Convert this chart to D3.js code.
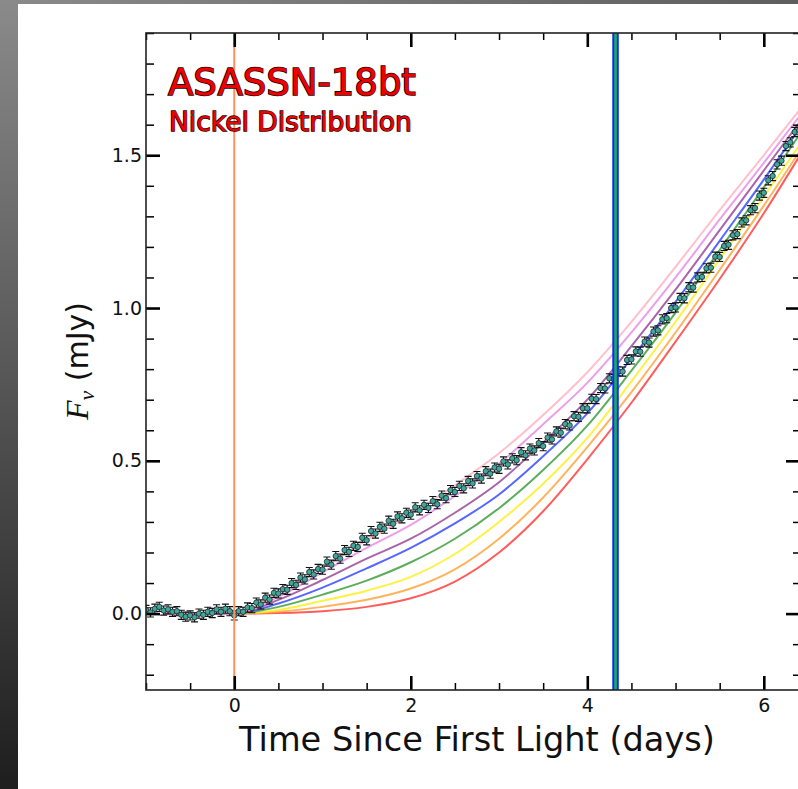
<!DOCTYPE html>
<html>
<head>
<meta charset="utf-8">
<script src="https://cdn.jsdelivr.net/npm/d3@7"></script>
<style>
  body { margin: 0; background: #fff; }
  svg { display: block; }
</style>
</head>
<body>
<div id="chart"></div>
<script>
// observed light curve (days since first light, mJy)
const times = [-1.00, -0.95, -0.90, -0.85, -0.80, -0.75, -0.70, -0.65, -0.60, -0.55,
  -0.50, -0.45, -0.40, -0.35, -0.30, -0.25, -0.20, -0.15, -0.10, -0.05,
  0.00, 0.05, 0.10, 0.15, 0.20, 0.25, 0.30, 0.35, 0.40, 0.45,
  0.50, 0.55, 0.60, 0.65, 0.70, 0.75, 0.80, 0.85, 0.90, 0.95,
  1.00, 1.05, 1.10, 1.15, 1.20, 1.25, 1.30, 1.35, 1.40, 1.45,
  1.50, 1.55, 1.60, 1.65, 1.70, 1.75, 1.80, 1.85, 1.90, 1.95,
  2.00, 2.05, 2.10, 2.15, 2.20, 2.25, 2.30, 2.35, 2.40, 2.45,
  2.50, 2.55, 2.60, 2.65, 2.70, 2.75, 2.80, 2.85, 2.90, 2.95,
  3.00, 3.05, 3.10, 3.15, 3.20, 3.25, 3.30, 3.35, 3.40, 3.45,
  3.50, 3.55, 3.60, 3.65, 3.70, 3.75, 3.80, 3.85, 3.90, 3.95,
  4.00, 4.05, 4.10, 4.15, 4.20, 4.25, 4.30, 4.35, 4.40, 4.45,
  4.50, 4.55, 4.60, 4.65, 4.70, 4.75, 4.80, 4.85, 4.90, 4.95,
  5.00, 5.05, 5.10, 5.15, 5.20, 5.25, 5.30, 5.35, 5.40, 5.45,
  5.50, 5.55, 5.60, 5.65, 5.70, 5.75, 5.80, 5.85, 5.90, 5.95,
  6.00, 6.05, 6.10, 6.15, 6.20, 6.25, 6.30, 6.35, 6.40];
const flux = [0.012, 0.004, 0.016, 0.022, 0.010, 0.014, 0.006, 0.008, -0.004, -0.010,
  -0.006, -0.012, 0.000, -0.004, 0.006, 0.002, 0.014, 0.006, 0.016, 0.008,
  -0.006, 0.008, 0.006, 0.020, 0.018, 0.036, 0.030, 0.052, 0.046, 0.068,
  0.066, 0.080, 0.078, 0.100, 0.094, 0.118, 0.112, 0.136, 0.128, 0.146,
  0.144, 0.170, 0.160, 0.188, 0.180, 0.208, 0.202, 0.222, 0.218, 0.248,
  0.240, 0.270, 0.262, 0.284, 0.278, 0.304, 0.294, 0.318, 0.312, 0.330,
  0.324, 0.348, 0.338, 0.356, 0.346, 0.368, 0.358, 0.386, 0.378, 0.404,
  0.398, 0.418, 0.410, 0.434, 0.426, 0.450, 0.442, 0.466, 0.458, 0.478,
  0.474, 0.498, 0.488, 0.508, 0.502, 0.528, 0.518, 0.540, 0.534, 0.558,
  0.548, 0.576, 0.570, 0.596, 0.592, 0.620, 0.616, 0.646, 0.644, 0.672,
  0.672, 0.703, 0.702, 0.738, 0.737, 0.770, 0.767, 0.793, 0.792, 0.830,
  0.832, 0.858, 0.857, 0.890, 0.887, 0.923, 0.927, 0.963, 0.967, 1.000,
  1.002, 1.033, 1.032, 1.068, 1.067, 1.100, 1.102, 1.130, 1.132, 1.168,
  1.167, 1.203, 1.207, 1.238, 1.242, 1.280, 1.287, 1.320, 1.327, 1.368,
  1.377, 1.418, 1.432, 1.470, 1.482, 1.530, 1.542, 1.576, 1.582];
const fluxErr = 0.015;

// model curves for the different nickel distributions
const modelTimes = [-0.8, 0.0, 0.5, 1.0, 1.5, 2.0, 2.5, 3.0, 3.5, 4.0, 4.5, 5.0, 5.5, 6.0, 6.41];
const modelPink   = [0, 0, 0.060, 0.150, 0.240, 0.325, 0.420, 0.525, 0.650, 0.790, 0.955, 1.135, 1.320, 1.500, 1.650];
const modelViolet = [0, 0, 0.055, 0.135, 0.215, 0.290, 0.385, 0.490, 0.620, 0.755, 0.920, 1.100, 1.290, 1.475, 1.630];
const modelPurple = [0, 0, 0.045, 0.110, 0.180, 0.245, 0.330, 0.430, 0.560, 0.700, 0.875, 1.060, 1.255, 1.450, 1.610];
const modelBlue   = [0, 0, 0.033, 0.085, 0.148, 0.215, 0.295, 0.390, 0.515, 0.655, 0.835, 1.020, 1.220, 1.420, 1.590];
const modelGreen  = [0, 0, 0.022, 0.062, 0.108, 0.168, 0.245, 0.345, 0.470, 0.615, 0.795, 0.985, 1.190, 1.395, 1.570];
const modelYellow = [0, 0, 0.012, 0.042, 0.075, 0.120, 0.195, 0.300, 0.425, 0.575, 0.760, 0.955, 1.160, 1.365, 1.535];
const modelOrange = [0, 0, 0.006, 0.022, 0.045, 0.082, 0.145, 0.245, 0.380, 0.545, 0.725, 0.920, 1.125, 1.335, 1.515];
const modelRed    = [0, 0, 0.002, 0.008, 0.022, 0.050, 0.105, 0.200, 0.335, 0.505, 0.690, 0.890, 1.095, 1.310, 1.500];

const modelNames = ["pink", "violet", "purple", "blue", "green", "yellow", "orange", "red"];
const modelSeries = [modelPink, modelViolet, modelPurple, modelBlue, modelGreen, modelYellow, modelOrange, modelRed];

const firstLight = 0.0;
const markerTime = 4.32;

const xMajor = [0, 2, 4, 6];
const yMajor = [0.0, 0.5, 1.0, 1.5];

const W = 798, H = 789;
const mLeft = 146, mRight = 800, mTop = 33, mBottom = 690;

const svg = d3.select("#chart").append("svg")
  .attr("width", W)
  .attr("height", H);

// gray page edges
const defs = svg.append("defs");
const gLeft = defs.append("linearGradient").attr("id", "gl").attr("x1", 0).attr("y1", 0).attr("x2", 0).attr("y2", 1);
gLeft.append("stop").attr("offset", 0).attr("stop-color", "#8a8a8a");
gLeft.append("stop").attr("offset", 1).attr("stop-color", "#1e1e1e");
const gTop = defs.append("linearGradient").attr("id", "gt").attr("x1", 0).attr("y1", 0).attr("x2", 1).attr("y2", 0);
gTop.append("stop").attr("offset", 0).attr("stop-color", "#8a8a8a");
gTop.append("stop").attr("offset", 1).attr("stop-color", "#5e5e5e");
defs.append("clipPath").attr("id", "plotclip")
  .append("rect").attr("x", mLeft).attr("y", mTop).attr("width", mRight - mLeft).attr("height", mBottom - mTop);

svg.append("rect").attr("x", 0).attr("y", 0).attr("width", W).attr("height", 4).attr("fill", "url(#gt)");
svg.append("rect").attr("x", 0).attr("y", 0).attr("width", 18).attr("height", H).attr("fill", "url(#gl)");

const x = d3.scaleLinear().domain([-1, 6.41]).range([mLeft, mRight]);
const y = d3.scaleLinear().domain([-0.25, 1.9]).range([mBottom, mTop]);

const plot = svg.append("g").attr("clip-path", "url(#plotclip)");

// model curves
const line = d3.line()
  .x((d, i) => x(modelTimes[i]))
  .y(d => y(d))
  .curve(d3.curveMonotoneX);

const modelColors = {
  pink: "#ffb4c4", violet: "#e88ee8", purple: "#9a4a9a", blue: "#3a4cff",
  green: "#3f9f3f", yellow: "#ffee22", orange: "#ffa640", red: "#ff4040"
};

plot.selectAll(".model")
  .data(modelSeries.slice().reverse())
  .join("path")
  .attr("class", "model")
  .attr("d", d => line(d))
  .attr("fill", "none")
  .attr("stroke", (d, i) => modelColors[modelNames[modelNames.length - 1 - i]])
  .attr("stroke-opacity", 0.85)
  .attr("stroke-width", 2);

// observations with error bars
const obs = times.map((t, i) => ({ t: t, f: flux[i] }));

const bars = plot.append("g").attr("stroke", "#111").attr("stroke-width", 1.1);
bars.selectAll(".eb")
  .data(obs)
  .join("path")
  .attr("class", "eb")
  .attr("d", d => {
    const cx = x(d.t), y0 = y(d.f - fluxErr), y1 = y(d.f + fluxErr);
    return `M${cx},${y0}V${y1}M${cx - 3.5},${y0}H${cx + 3.5}M${cx - 3.5},${y1}H${cx + 3.5}`;
  });

plot.selectAll(".pt")
  .data(obs)
  .join("circle")
  .attr("class", "pt")
  .attr("cx", d => x(d.t))
  .attr("cy", d => y(d.f))
  .attr("r", 2.7)
  .attr("fill", "#3fa896")
  .attr("stroke", "#112")
  .attr("stroke-width", 0.7);

// vertical markers
plot.append("line")
  .attr("x1", x(firstLight)).attr("x2", x(firstLight))
  .attr("y1", mTop).attr("y2", mBottom)
  .attr("stroke", "#ff9060").attr("stroke-width", 2);

plot.append("line")
  .attr("x1", x(markerTime)).attr("x2", x(markerTime))
  .attr("y1", mTop).attr("y2", mBottom)
  .attr("stroke", "#1028ff").attr("stroke-width", 6.5);
plot.append("line")
  .attr("x1", x(markerTime)).attr("x2", x(markerTime))
  .attr("y1", mTop).attr("y2", mBottom)
  .attr("stroke", "#18b050").attr("stroke-width", 2.6);

// ticks, pointing inwards on all sides
const xMinor = d3.range(-1, 6.5, 0.5).filter(v => !xMajor.includes(v));
const yMinor = d3.range(-0.2, 1.95, 0.1).map(v => +v.toFixed(1)).filter(v => !yMajor.includes(v));

function styleAxis(g, width) {
  g.select(".domain").remove();
  g.selectAll(".tick line").attr("stroke", "#000").attr("stroke-width", width);
  g.selectAll(".tick text")
    .attr("font-family", "DejaVu Sans, sans-serif")
    .attr("font-size", 19)
    .attr("fill", "#111");
}

svg.append("g").attr("transform", `translate(0,${mBottom})`)
  .call(d3.axisBottom(x).tickValues(xMajor).tickSize(-14).tickPadding(9).tickFormat(d3.format("d")))
  .call(g => styleAxis(g, 2.6));
svg.append("g").attr("transform", `translate(0,${mBottom})`)
  .call(d3.axisBottom(x).tickValues(xMinor).tickSize(-7).tickFormat(""))
  .call(g => styleAxis(g, 1.5));
svg.append("g").attr("transform", `translate(0,${mTop})`)
  .call(d3.axisTop(x).tickValues(xMajor).tickSize(-14).tickFormat(""))
  .call(g => styleAxis(g, 2.6));
svg.append("g").attr("transform", `translate(0,${mTop})`)
  .call(d3.axisTop(x).tickValues(xMinor).tickSize(-7).tickFormat(""))
  .call(g => styleAxis(g, 1.5));

svg.append("g").attr("transform", `translate(${mLeft},0)`)
  .call(d3.axisLeft(y).tickValues(yMajor).tickSize(-14).tickPadding(4).tickFormat(d3.format(".1f")))
  .call(g => styleAxis(g, 2.6));
svg.append("g").attr("transform", `translate(${mLeft},0)`)
  .call(d3.axisLeft(y).tickValues(yMinor).tickSize(-8).tickFormat(""))
  .call(g => styleAxis(g, 1.5));
svg.append("g").attr("transform", `translate(${mRight},0)`)
  .call(d3.axisRight(y).tickValues(yMajor).tickSize(-14).tickFormat(""))
  .call(g => styleAxis(g, 2.6));
svg.append("g").attr("transform", `translate(${mRight},0)`)
  .call(d3.axisRight(y).tickValues(yMinor).tickSize(-7).tickFormat(""))
  .call(g => styleAxis(g, 1.5));

// frame
svg.append("rect")
  .attr("x", mLeft).attr("y", mTop)
  .attr("width", mRight - mLeft).attr("height", mBottom - mTop)
  .attr("fill", "none").attr("stroke", "#222").attr("stroke-width", 1.6);

// axis titles
svg.append("text")
  .attr("x", 477).attr("y", 751)
  .attr("text-anchor", "middle")
  .attr("font-family", "DejaVu Sans, sans-serif")
  .attr("font-size", 33.6)
  .attr("fill", "#111")
  .text("Time Since First Light (days)");

const yl = svg.append("text")
  .attr("transform", "translate(88,361) rotate(-90)")
  .attr("text-anchor", "middle")
  .attr("font-family", "DejaVu Sans, sans-serif")
  .attr("font-size", 30)
  .attr("fill", "#111");
yl.append("tspan").attr("font-family", "Liberation Serif, serif").attr("font-style", "italic").attr("font-size", 32).text("F");
yl.append("tspan").attr("font-family", "Liberation Serif, serif").attr("font-style", "italic").attr("font-size", 22).attr("dy", 6).text("ν");
yl.append("tspan").attr("dy", -6).text(" (mJy)");

// title
svg.append("text")
  .attr("x", 168).attr("y", 95)
  .attr("font-family", "DejaVu Sans, sans-serif")
  .attr("font-size", 37)
  .attr("fill", "#ee0000")
  .attr("stroke", "#220000").attr("stroke-width", 1.6)
  .attr("paint-order", "stroke")
  .text("ASASSN-18bt");
svg.append("text")
  .attr("x", 169).attr("y", 131)
  .attr("font-family", "DejaVu Sans, sans-serif")
  .attr("font-size", 26.5)
  .attr("fill", "#ee0000")
  .attr("stroke", "#220000").attr("stroke-width", 1.4)
  .attr("paint-order", "stroke")
  .text("Nickel Distribution");
</script>
</body>
</html>
